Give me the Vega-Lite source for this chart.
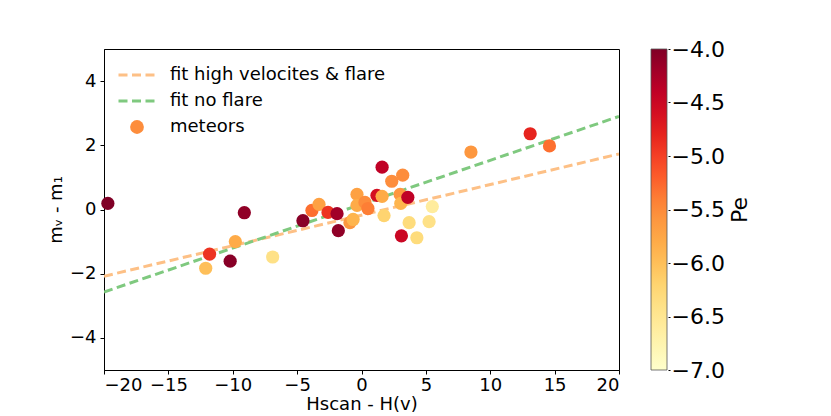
{
  "$schema": "https://vega.github.io/schema/vega-lite/v6.json",
  "width": 515,
  "height": 321,
  "autosize": "none",
  "padding": {"left": 104, "top": 49, "right": 212, "bottom": 46},
  "background": "white",
  "config": {
    "view": {"stroke": "black", "strokeWidth": 1},
    "font": "DejaVu Sans",
    "axis": {
      "labelFont": "DejaVu Sans", "labelFontSize": 18, "labelColor": "black",
      "titleFont": "DejaVu Sans", "titleFontSize": 18, "titleFontWeight": "normal", "titleColor": "black",
      "grid": false, "domainColor": "black", "tickColor": "black", "tickSize": 4, "labelPadding": 3
    }
  },
  "datasets": {
    "fits": [
      {"series": "fit high velocites & flare", "x": -20, "y": -2.08},
      {"series": "fit high velocites & flare", "x": 20, "y": 1.73},
      {"series": "fit no flare", "x": -20, "y": -2.57},
      {"series": "fit no flare", "x": 20, "y": 2.9}
    ],
    "meteors": [
      {"x": -19.7, "y": 0.19, "Pe": -4.0},
      {"x": -9.1, "y": -0.10, "Pe": -4.1},
      {"x": -9.8, "y": -1.00, "Pe": -5.8},
      {"x": -11.8, "y": -1.39, "Pe": -4.9},
      {"x": -12.1, "y": -1.83, "Pe": -6.0},
      {"x": -10.2, "y": -1.61, "Pe": -4.05},
      {"x": -6.9, "y": -1.48, "Pe": -6.4},
      {"x": -4.55, "y": -0.35, "Pe": -4.05},
      {"x": -3.85, "y": -0.03, "Pe": -5.3},
      {"x": -3.3, "y": 0.16, "Pe": -5.7},
      {"x": -2.6, "y": -0.09, "Pe": -4.9},
      {"x": -1.9, "y": -0.13, "Pe": -4.2},
      {"x": -1.8, "y": -0.66, "Pe": -4.1},
      {"x": -0.9, "y": -0.41, "Pe": -5.6},
      {"x": -0.65, "y": -0.31, "Pe": -5.9},
      {"x": -0.35, "y": 0.47, "Pe": -5.7},
      {"x": -0.35, "y": 0.13, "Pe": -5.8},
      {"x": 0.27, "y": 0.22, "Pe": -5.5},
      {"x": 0.5, "y": 0.03, "Pe": -5.4},
      {"x": 1.2, "y": 0.44, "Pe": -4.6},
      {"x": 1.6, "y": 1.32, "Pe": -4.4},
      {"x": 1.6, "y": 0.41, "Pe": -5.8},
      {"x": 1.75, "y": -0.19, "Pe": -6.2},
      {"x": 2.35, "y": 0.88, "Pe": -5.5},
      {"x": 3.2, "y": 1.07, "Pe": -5.5},
      {"x": 3.0, "y": 0.47, "Pe": -5.6},
      {"x": 3.05, "y": 0.19, "Pe": -5.9},
      {"x": 3.6, "y": 0.38, "Pe": -4.4},
      {"x": 5.5, "y": 0.09, "Pe": -6.6},
      {"x": 3.7, "y": -0.41, "Pe": -6.3},
      {"x": 5.25, "y": -0.38, "Pe": -6.4},
      {"x": 3.1, "y": -0.82, "Pe": -4.5},
      {"x": 4.3, "y": -0.88, "Pe": -6.3},
      {"x": 8.5, "y": 1.79, "Pe": -5.6},
      {"x": 13.1, "y": 2.36, "Pe": -4.8},
      {"x": 14.6, "y": 1.98, "Pe": -5.3}
    ]
  },
  "layer": [
    {
      "layer": [
        {
          "data": {"name": "fits"},
          "mark": {"type": "line", "strokeWidth": 3, "strokeDash": [9, 4.5], "clip": true},
          "encoding": {
            "x": {"field": "x", "type": "quantitative", "scale": {"domain": [-20, 20], "nice": false, "zero": false},
                  "axis": {"values": [-20, -15, -10, -5, 0, 5, 10, 15, 20], "title": "Hscan - H(v)", "titlePadding": 1, "labelPadding": 2}},
            "y": {"field": "y", "type": "quantitative", "scale": {"domain": [-5, 5], "nice": false, "zero": false},
                  "axis": {"values": [-4, -2, 0, 2, 4], "title": "mᵥ - m₁", "titlePadding": 4, "labelPadding": 4}},
            "stroke": {
              "field": "series", "type": "nominal",
              "scale": {"domain": ["fit high velocites & flare", "fit no flare", "meteors"], "range": ["#fdc086", "#7fc97f", "#fd8d3c"]},
              "legend": {
                "title": null, "orient": "none", "legendX": 24, "legendY": 17,
                "symbolType": "stroke", "symbolSize": 1369, "symbolStrokeWidth": 3, "symbolDash": [9, 4.5],
                "labelFont": "DejaVu Sans", "labelFontSize": 18, "labelColor": "black", "labelOffset": 24, "labelLimit": 400,
                "rowPadding": 8,
                "encode": {
                  "symbols": {
                    "update": {
                      "shape": {"signal": "datum.value === 'meteors' ? 'circle' : 'stroke'"},
                      "size": {"signal": "datum.value === 'meteors' ? 190 : 1369"},
                      "fill": {"signal": "datum.value === 'meteors' ? '#fd8d3c' : 'transparent'"},
                      "strokeDash": {"signal": "datum.value === 'meteors' ? [1, 0] : [9, 4.5]"},
                      "strokeWidth": {"signal": "datum.value === 'meteors' ? 0 : 3"}
                    }
                  }
                }
              }
            },
            "detail": {"field": "series"}
          }
        },
        {
          "data": {"name": "meteors"},
          "mark": {"type": "circle", "size": 175, "opacity": 1},
          "encoding": {
            "x": {"field": "x", "type": "quantitative"},
            "y": {"field": "y", "type": "quantitative"},
            "fill": {
              "field": "Pe", "type": "quantitative",
              "scale": {
                "domain": [-7, -6.625, -6.25, -5.875, -5.5, -5.125, -4.75, -4.375, -4.0],
                "range": ["#ffffcc", "#ffeda0", "#fed976", "#feb24c", "#fd8d3c", "#fc4e2a", "#e31a1c", "#bd0026", "#800026"]
              },
              "legend": {
                "title": null, "orient": "none", "legendX": 547, "legendY": 0, "direction": "vertical",
                "gradientLength": 321, "gradientThickness": 16, "gradientStrokeColor": "#555", "gradientStrokeWidth": 0.8,
                "values": [-7, -6.5, -6, -5.5, -5, -4.5, -4],
                "labelExpr": "''"
              }
            }
          }
        }
      ]
    },
    {
      "data": {"name": "meteors"},
      "mark": {"type": "point", "opacity": 0},
      "encoding": {
        "y": {
          "field": "Pe", "type": "quantitative",
          "scale": {"domain": [-7, -4], "nice": false, "zero": false},
          "axis": {
            "orient": "right", "offset": 49, "domain": false,
            "values": [-7, -6.5, -6, -5.5, -5, -4.5, -4], "format": ".1f",
            "tickSize": 2, "labelPadding": 1, "labelFontSize": 22,
            "title": "Pe", "titleFontSize": 22, "titleAngle": 270, "titlePadding": 27
          }
        }
      }
    }
  ],
  "resolve": {"scale": {"y": "independent"}}
}
